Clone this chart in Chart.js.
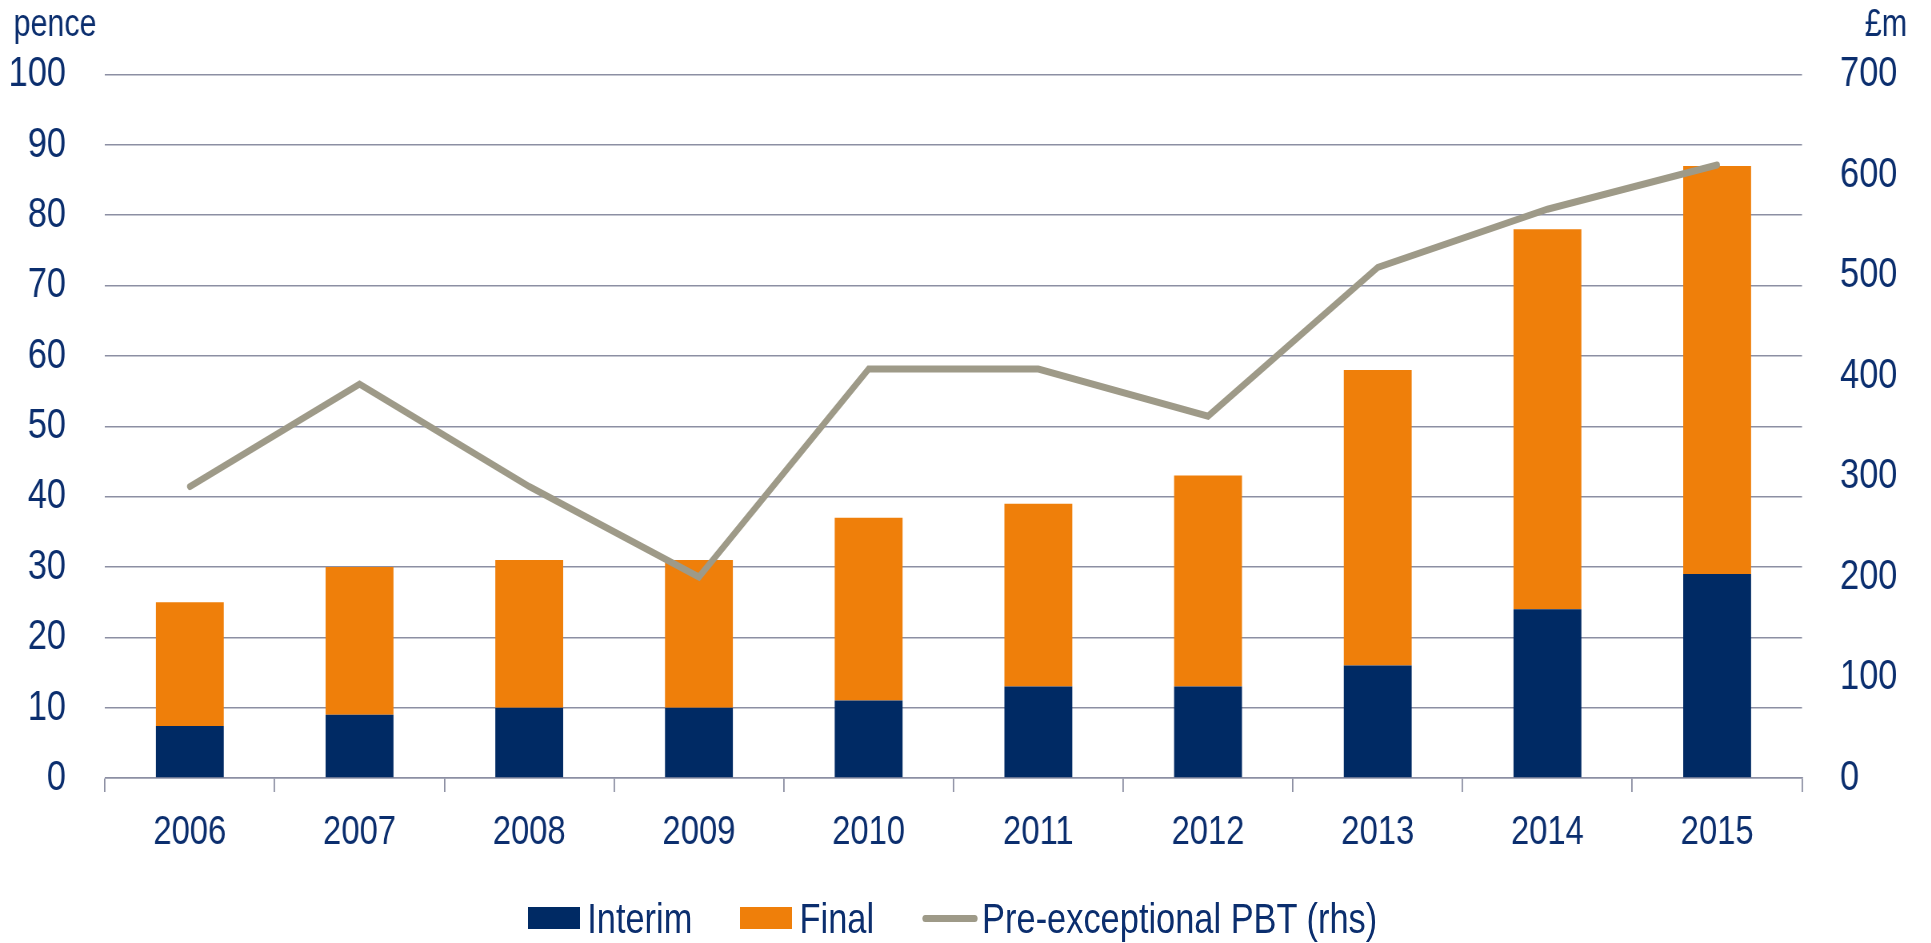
<!DOCTYPE html>
<html>
<head>
<meta charset="utf-8">
<script src="https://cdn.jsdelivr.net/npm/chart.js"></script>
<style>
  html, body { margin: 0; padding: 0; background: #fff; overflow: hidden; }
  /* el original usa una fuente estrecha: se comprime todo en horizontal */
  #wrap { position: relative; width: 2414px; height: 943px; transform: scaleX(0.8); transform-origin: 0 0; }
  #legend {
    position: absolute; left: 660px; top: 897px;
    display: flex; align-items: center;
    font-family: 'Liberation Sans', Arial, sans-serif;
    font-size: 43px; line-height: 42px; color: #0B2E6E; white-space: nowrap;
  }
  .box { width: 65px; height: 22px; margin-right: 9px; }
  .ln { width: 69px; height: 7px; border-radius: 4px; margin-right: 6px; }
</style>
</head>
<body>
<div id="wrap">
  <canvas id="grafico" width="2414" height="943"></canvas>
  <div id="legend"></div>
</div>
<script>
// datos
const anios = ["2006", "2007", "2008", "2009", "2010", "2011", "2012", "2013", "2014", "2015"];
const interim = [7.4, 9, 10, 10, 11, 13, 13, 16, 24, 29];
const final = [17.6, 21, 21, 21, 26, 26, 30, 42, 54, 58];
const pbt = [290, 392, 290, 200, 407, 407, 360, 508, 566, 610];

const colores = { interim: "#002A64", final: "#EF7F0A", pbt: "#9E9A88", grid: "#8C8FA3", texto: "#0B2E6E" };
const fuente = "'Liberation Sans', Arial, sans-serif";

// titulos de los ejes (pence / £m)
const titulosEjes = {
  id: "titulosEjes",
  afterDraw(chart) {
    const ctx = chart.ctx;
    ctx.save();
    ctx.fillStyle = colores.texto;
    ctx.font = "38px " + fuente;
    ctx.textBaseline = "alphabetic";
    ctx.textAlign = "left";
    ctx.fillText("pence", 17, 36);
    ctx.fillText("£m", 2331, 36);
    ctx.restore();
  }
};

new Chart(document.getElementById("grafico"), {
  type: "bar",
  data: {
    labels: anios,
    datasets: [
      { label: "Interim", data: interim, backgroundColor: colores.interim, yAxisID: "y", order: 1 },
      { label: "Final", data: final, backgroundColor: colores.final, yAxisID: "y", order: 1 },
      {
        label: "Pre-exceptional PBT (rhs)", type: "line", data: pbt, yAxisID: "y1", order: 0,
        borderColor: colores.pbt, borderWidth: 7, pointRadius: 0, tension: 0,
        borderCapStyle: "round", fill: false
      }
    ]
  },
  options: {
    responsive: false,
    animation: false,
    layout: { padding: { top: 72, bottom: 55, left: 0, right: 0 } },
    datasets: { bar: { categoryPercentage: 1, barPercentage: 0.4 } },
    plugins: { legend: { display: false }, tooltip: { enabled: false } },
    scales: {
      x: {
        stacked: true,
        afterFit: s => { s.height = 110; },
        grid: { offset: true, drawOnChartArea: false, drawTicks: true, tickLength: 14, color: colores.grid, lineWidth: 1.8 },
        border: { display: true, color: colores.grid, width: 1.5 },
        ticks: { color: colores.texto, font: { family: fuente, size: 41 }, padding: 16, maxRotation: 0 }
      },
      y: {
        position: "left", stacked: true, min: 0, max: 100,
        afterFit: s => { s.width = 131.25; },
        grid: { drawTicks: false, color: colores.grid, lineWidth: 1.5 },
        border: { display: false },
        ticks: { stepSize: 10, color: colores.texto, font: { family: fuente, size: 43 }, padding: 48.75 }
      },
      y1: {
        position: "right", min: 0, max: 700,
        afterFit: s => { s.width = 161.5; },
        grid: { drawOnChartArea: false, drawTicks: false },
        border: { display: false },
        ticks: { stepSize: 100, color: colores.texto, font: { family: fuente, size: 43 }, padding: 47.5 }
      }
    }
  },
  plugins: [titulosEjes]
});

// leyenda en HTML
const leyenda = document.getElementById("legend");
const items = [
  { texto: "Interim", clase: "box", color: colores.interim },
  { texto: "Final", clase: "box", color: colores.final },
  { texto: "Pre-exceptional PBT (rhs)", clase: "ln", color: colores.pbt }
];
items.forEach((it, i) => {
  const marca = document.createElement("div");
  marca.className = it.clase;
  marca.style.background = it.color;
  const txt = document.createElement("span");
  txt.textContent = it.texto;
  if (i < items.length - 1) txt.style.marginRight = "60px";
  leyenda.appendChild(marca);
  leyenda.appendChild(txt);
});
</script>
</body>
</html>
